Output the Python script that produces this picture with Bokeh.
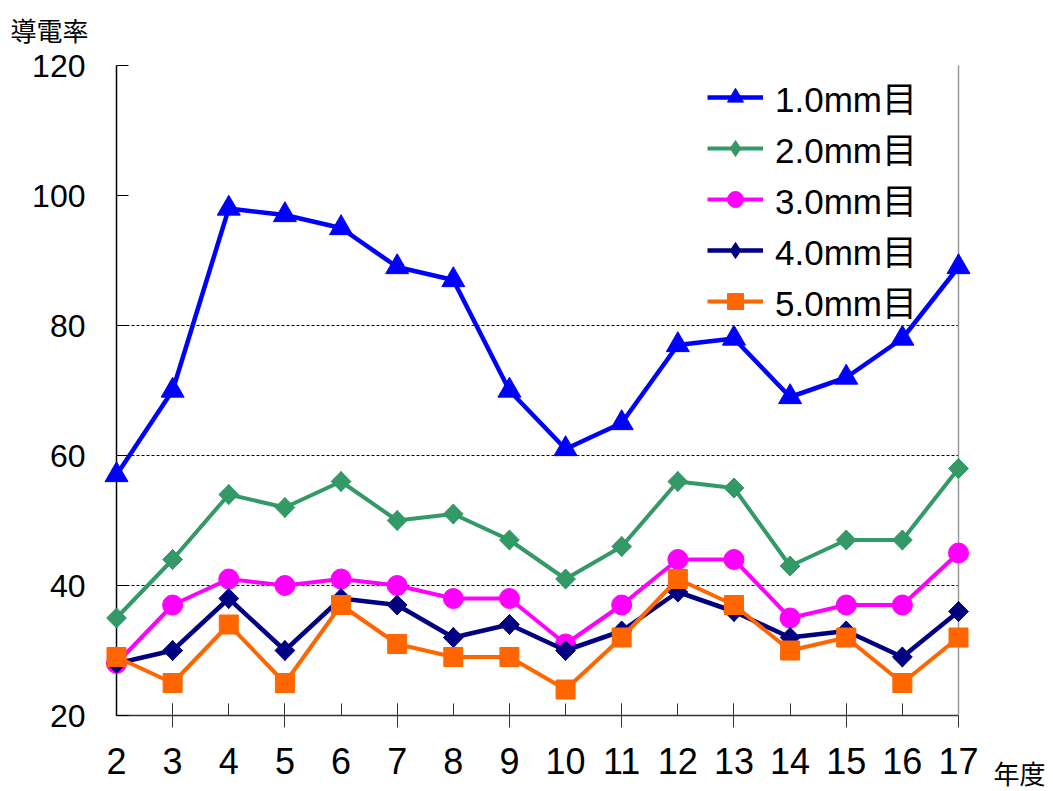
import math
from bokeh.plotting import figure
from bokeh.models import (Range1d, FixedTicker, LinearAxis, Title,
                          ColumnDataSource, Legend, LegendItem)
from bokeh.embed import file_html
from bokeh.resources import INLINE

years = [2, 3, 4, 5, 6, 7, 8, 9, 10, 11, 12, 13, 14, 15, 16, 17]
s_10 = [57, 70, 98, 97, 95, 89, 87, 70, 61, 65, 77, 78, 69, 72, 78, 89]
s_20 = [35, 44, 54, 52, 56, 50, 51, 47, 41, 46, 56, 55, 43, 47, 47, 58]
s_30 = [28, 37, 41, 40, 41, 40, 38, 38, 31, 37, 44, 44, 35, 37, 37, 45]
s_40 = [28, 30, 38, 30, 38, 37, 32, 34, 30, 33, 39, 36, 32, 33, 29, 36]
s_50 = [29, 25, 34, 25, 37, 31, 29, 29, 24, 32, 41, 37, 30, 32, 25, 32]
series_names = ["1.0mm目", "2.0mm目", "3.0mm目", "4.0mm目", "5.0mm目"]
y_ticks = [20, 40, 60, 80, 100, 120]
grid_ticks = [40, 60, 80, 120]
y_title = "導電率"
x_title = "年度"

series = [s_10, s_20, s_30, s_40, s_50]
colors = ["#0000FF", "#339966", "#FF00FF", "#000080", "#FF6600"]
markers = ["triangle", "diamond", "circle", "diamond", "square"]
sizes = [23, 20, 20, 20, 19]
widths = [4.5, 4, 4, 4.5, 4]

p = figure(width=1053, height=791, output_backend="svg", toolbar_location=None,
           x_range=Range1d(2, 17), y_range=Range1d(20, 120),
           min_border_left=116, min_border_right=95, min_border_top=65,
           min_border_bottom=76)
p.outline_line_color = None
p.xgrid.visible = False
p.ygrid.ticker = FixedTicker(ticks=grid_ticks)
p.ygrid.grid_line_color = "black"
p.ygrid.grid_line_dash = "3 2"
p.ygrid.grid_line_width = 1
p.background_fill_color = "white"
p.border_fill_color = "white"

# title (y quantity) at top-left
p.title.text = y_title
p.title.align = "left"
p.title.vertical_align = "top"
p.title.offset = -106
p.title.standoff = 33
p.title.text_font = "Liberation Sans, Noto Sans CJK JP"
p.title.text_font_size = "26px"
p.title.text_font_style = "normal"
p.title.text_color = "black"

# y axis
ya = p.yaxis[0]
ya.ticker = FixedTicker(ticks=y_ticks)
ya.axis_line_color = "black"
ya.axis_line_width = 1.5
ya.major_tick_in = 12
ya.major_tick_out = 0
ya.major_tick_line_color = "black"
ya.minor_tick_line_color = None
ya.major_label_text_font = "Liberation Sans"
ya.major_label_text_font_size = "32px"
ya.major_label_text_color = "black"
ya.major_label_standoff = 31

# x axis
xa = p.xaxis[0]
xa.ticker = FixedTicker(ticks=years, minor_ticks=[y for y in years if y % 2 == 1])
xa.axis_line_color = "#333333"
xa.axis_line_width = 1.5
xa.major_tick_in = 12
xa.major_tick_out = 0
xa.minor_tick_in = 12
xa.minor_tick_out = 12
xa.minor_tick_line_color = "#333333"
xa.minor_tick_line_width = 1
xa.major_tick_line_color = "#333333"
xa.major_label_text_font = "Liberation Sans"
xa.major_label_text_font_size = "36px"
xa.major_label_text_color = "black"
xa.major_label_standoff = 20

# right border
ra = LinearAxis(ticker=FixedTicker(ticks=[]), axis_line_color="#999999",
                axis_line_width=1.5, major_tick_line_color=None,
                minor_tick_line_color=None)
p.add_layout(ra, "right")

# x quantity at bottom-right
xt = Title(text=x_title, align="right", offset=-87, standoff=-33,
           vertical_align="top",
           text_font="Liberation Sans, Noto Sans CJK JP", text_font_size="26px",
           text_font_style="normal", text_color="black")
p.add_layout(xt, "below")

items = []
for vals, name, c, m, s, w in zip(series, series_names, colors, markers, sizes, widths):
    src = ColumnDataSource(dict(x=years, y=vals))
    lr = p.line("x", "y", source=src, line_color=c, line_width=w, level="overlay")
    if m == "diamond":
        # broad diamond: a square turned 45 degrees, with the Bokeh diamond on top
        p.scatter("x", "y", source=src, marker="square", size=s * 0.7,
                  angle=math.pi / 4, fill_color=c, line_color=c, level="overlay")
    sr = p.scatter("x", "y", source=src, marker=m, size=s,
                   fill_color=c, line_color=c, level="overlay")
    items.append(LegendItem(label=name, renderers=[lr, sr]))

legend = Legend(items=items, location=(591, 389), glyph_width=56, glyph_height=40,
                label_standoff=12, spacing=-2, padding=0, margin=0,
                label_text_font="Liberation Sans, Noto Sans CJK JP",
                label_text_font_size="35px",
                label_text_color="black", background_fill_alpha=0,
                border_line_color=None)
legend.level = "overlay"
p.add_layout(legend)

open("out.html", "w").write(file_html(p, INLINE))
